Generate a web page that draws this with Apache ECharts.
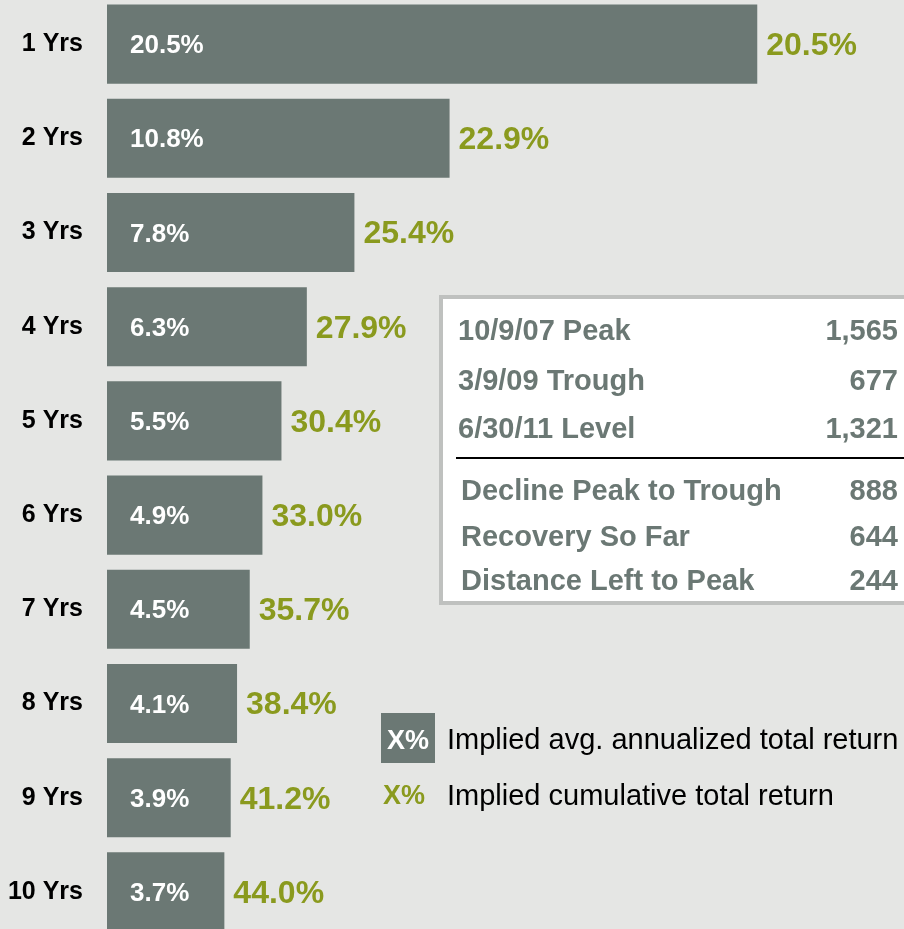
<!DOCTYPE html>
<html>
<head>
<meta charset="utf-8">
<script src="https://cdn.jsdelivr.net/npm/echarts@6/dist/echarts.min.js"></script>
<style>
  html, body { margin: 0; padding: 0; background: #e5e6e4; }
  #chart { width: 904px; height: 929px; }
</style>
</head>
<body>
<div id="chart"></div>
<script>
// horizons and implied returns
const horizons = ['1 Yrs', '2 Yrs', '3 Yrs', '4 Yrs', '5 Yrs', '6 Yrs', '7 Yrs', '8 Yrs', '9 Yrs', '10 Yrs'];
const annualized = [20.5, 10.8, 7.8, 6.3, 5.5, 4.9, 4.5, 4.1, 3.9, 3.7];
const cumulative = [20.5, 22.9, 25.4, 27.9, 30.4, 33.0, 35.7, 38.4, 41.2, 44.0];

// S&P levels box
const boxLabels = ['10/9/07 Peak', '3/9/09 Trough', '6/30/11 Level', 'Decline Peak to Trough', 'Recovery So Far', 'Distance Left to Peak'];
const boxValues = ['1,565', '677', '1,321', '888', '644', '244'];

const legendLabels = ['Implied avg. annualized total return', 'Implied cumulative total return'];

const GRAY = '#6b7874';
const GREEN = '#8a9a1e';
const FONT = '"Liberation Sans", Arial, sans-serif';

var myChart = echarts.init(document.getElementById('chart'));

// box text
var boxRowY = [332, 382, 430, 492, 538, 582];
var boxText = [];
boxLabels.forEach(function (lab, i) {
    boxText.push({
        type: 'text', x: i < 3 ? 458 : 461, y: boxRowY[i],
        style: { text: lab, fill: GRAY, font: 'bold 29px ' + FONT, verticalAlign: 'middle' }
    });
    boxText.push({
        type: 'text', x: 898, y: boxRowY[i],
        style: { text: boxValues[i], fill: GRAY, font: 'bold 29px ' + FONT, align: 'right', verticalAlign: 'middle' }
    });
});

myChart.setOption({
    backgroundColor: '#e5e6e4',
    animation: false,
    grid: { left: 107, top: -3, width: 793, height: 942, outerBoundsMode: 'none' },
    xAxis: {
        type: 'value', min: 0, max: 25,
        show: false
    },
    yAxis: {
        type: 'category',
        inverse: true,
        data: horizons,
        axisLine: { show: false },
        axisTick: { show: false },
        axisLabel: {
            margin: 24,
            padding: [4, 0, 0, 0],
            color: '#000',
            fontFamily: FONT,
            fontWeight: 'bold',
            fontSize: 25
        }
    },
    series: [
        {
            type: 'bar',
            data: annualized,
            barCategoryGap: '16%',
            itemStyle: { color: GRAY },
            label: {
                show: true,
                position: 'insideLeft',
                distance: 23,
                offset: [0, 2],
                color: '#fff',
                fontFamily: FONT,
                fontWeight: 'bold',
                fontSize: 26,
                formatter: function (p) { return p.value.toFixed(1) + '%'; }
            }
        },
        {
            type: 'bar',
            data: annualized,
            barGap: '-100%',
            barCategoryGap: '16%',
            itemStyle: { color: 'transparent' },
            label: {
                show: true,
                position: 'right',
                distance: 9,
                offset: [0, 2],
                color: GREEN,
                fontFamily: FONT,
                fontWeight: 'bold',
                fontSize: 32,
                formatter: function (p) { return cumulative[p.dataIndex].toFixed(1) + '%'; }
            }
        }
    ],
    graphic: [
        {
            type: 'rect', shape: { x: 441, y: 297, width: 480, height: 306 },
            style: { fill: '#fff', stroke: '#bfc1bf', lineWidth: 4 }
        },
        {
            type: 'line', shape: { x1: 456, y1: 458, x2: 904, y2: 458 },
            style: { stroke: '#000', lineWidth: 2 }
        }
    ].concat(boxText).concat([
        {
            type: 'rect', shape: { x: 381, y: 713, width: 54, height: 50 },
            style: { fill: GRAY }
        },
        {
            type: 'text', x: 408, y: 742,
            style: { text: 'X%', fill: '#fff', font: 'bold 27px ' + FONT, align: 'center', verticalAlign: 'middle' }
        },
        {
            type: 'text', x: 447, y: 741,
            style: { text: legendLabels[0], fill: '#000', font: '29px ' + FONT, verticalAlign: 'middle' }
        },
        {
            type: 'text', x: 383, y: 797,
            style: { text: 'X%', fill: GREEN, font: 'bold 27px ' + FONT, verticalAlign: 'middle' }
        },
        {
            type: 'text', x: 447, y: 797,
            style: { text: legendLabels[1], fill: '#000', font: '29px ' + FONT, verticalAlign: 'middle' }
        }
    ])
});
</script>
</body>
</html>
